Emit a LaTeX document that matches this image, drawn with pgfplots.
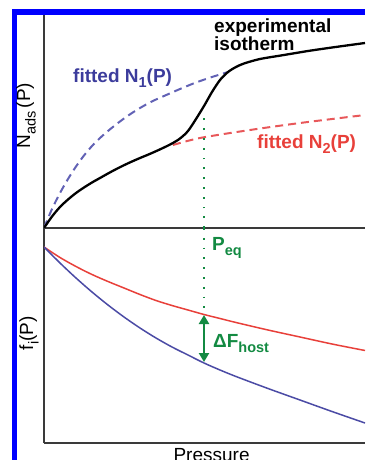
\documentclass[border=0pt]{standalone}
\usepackage{fontspec}
\setmainfont{Liberation Sans}
\usepackage{pgfplots}
\pgfplotsset{compat=1.18}
\usetikzlibrary{arrows.meta}
\definecolor{fitblue}{HTML}{4B4BA5}
\definecolor{dashblue}{HTML}{6262B5}
\definecolor{txtblue}{HTML}{3C3C9C}
\definecolor{fitred}{HTML}{E8403A}
\definecolor{dashred}{HTML}{E8585A}
\definecolor{grn}{HTML}{138A42}
\definecolor{axisgray}{HTML}{3A3A3A}
\newcommand{\sub}[1]{\raisebox{-5.5pt}{\fontsize{14.5}{16}\selectfont #1}}
\newcommand{\bigfont}{\fontsize{19}{22}\selectfont}

\begin{document}
\begin{tikzpicture}
\fill[blue] (12pt,-9pt) rectangle (365pt,-15pt);
\fill[blue] (12pt,-9pt) rectangle (17pt,-460pt);

\begin{axis}[
  at={(44pt,-228pt)}, anchor=south west, scale only axis,
  width=321pt, height=213pt,
  xmin=0, xmax=321, ymin=0, ymax=213,
  axis x line=bottom, axis y line=left,
  axis line style={-, line width=1.5pt, color=axisgray},
  xtick=\empty, ytick=\empty,
  label style={font=\bigfont},
  ylabel={N\sub{ads}\,(P)},
  ylabel style={at={(axis description cs:-0.0436,0.528)}, anchor=base},
]
\addplot[dashblue, line width=2pt, dash pattern=on 8pt off 5pt, smooth] coordinates {
(0,0)(8,19)(16,35)(24,49)(32,61.5)(40,72.5)(48,82)(56,90)(64,97)(72,103.5)(80,109.5)(88,115)(96,120)(104,124.5)(112,128.5)(120,132)(136,139)(152,145.5)(168,151)(184,156)};
\addplot[dashred, line width=2pt, dash pattern=on 8pt off 5pt, smooth] coordinates {
(129,83)(156,90)(206,98)(256,105)(321,113)};
\addplot[black, line width=2.3pt, smooth] coordinates {
(0,0)(8,11.5)(16,21)(24,28.5)(32,35)(40,40.5)(48,45.5)(56,50)(64,54.5)(72,58.8)(80,62.8)(88,66.5)(96,70)(104,73.3)(112,76.8)(120,80.5)(128,84.5)(136,89.5)(144,97)(152,109)(160,122)(168,136)(176,148)(184,156)(192,161)(200,164.5)(216,169)(240,173)(264,177)(288,180.5)(321,185)};
\addplot[grn, line width=2pt, dash pattern=on 1.8pt off 8pt] coordinates {(160,0)(160,113)};
\node[anchor=base west, font=\bigfont\bfseries, inner sep=0pt] at (axis cs:170,195) {experimental};
\node[anchor=base west, font=\bigfont\bfseries, inner sep=0pt] at (axis cs:170,177) {isotherm};
\node[anchor=base west, font=\bigfont\bfseries, text=txtblue, inner sep=0pt] at (axis cs:29,146) {fitted N\sub{1}(P)};
\node[anchor=base west, font=\bigfont\bfseries, text=fitred, inner sep=0pt] at (axis cs:213,80) {fitted N\sub{2}(P)};
\end{axis}

\begin{axis}[
  at={(44pt,-443pt)}, anchor=south west, scale only axis,
  width=321pt, height=215pt,
  xmin=0, xmax=321, ymin=0, ymax=215,
  axis x line=bottom, axis y line=left,
  axis line style={-, line width=1.5pt, color=axisgray},
  xtick=\empty, ytick=\empty,
  label style={font=\bigfont},
  ylabel={f\sub{i}(P)},
  ylabel style={at={(axis description cs:-0.034,0.51)}, anchor=base},
  xlabel={Pressure},
  xlabel style={at={(axis description cs:0.522,-0.0837)}, anchor=base},
]
\addplot[fitred, line width=1.5pt, smooth] coordinates {
(0,196)(16,185.5)(32,176.5)(48,168.5)(64,161.5)(80,155)(96,148.5)(112,142.5)(128,137.5)(144,133)(160,128.5)(176,124.5)(192,120.5)(224,113)(256,106)(288,99)(321,92.5)};
\addplot[fitblue, line width=1.5pt, smooth] coordinates {
(0,196)(16,180)(32,165)(48,151)(64,138)(80,126)(96,115)(112,105)(128,96)(144,88)(160,80)(176,73)(192,66.5)(224,54.5)(256,43)(288,31.5)(321,20)};
\addplot[grn, line width=2pt, dash pattern=on 1.8pt off 8pt] coordinates {(160,215)(160,133)};
\addplot[grn, line width=2.5pt, {Triangle[width=10pt,length=9pt]}-{Triangle[width=10pt,length=9pt]}] coordinates {(160,81)(160,128)};
\node[anchor=base west, font=\bigfont\bfseries, text=grn, inner sep=0pt] at (axis cs:168,193) {P\sub{eq}};
\node[anchor=base west, font=\bigfont\bfseries, text=grn, inner sep=0pt] at (axis cs:169,96) {ΔF\sub{host}};
\end{axis}

\pgfresetboundingbox
\useasboundingbox (0,0) rectangle (365pt,-460pt);
\end{tikzpicture}
\end{document}
